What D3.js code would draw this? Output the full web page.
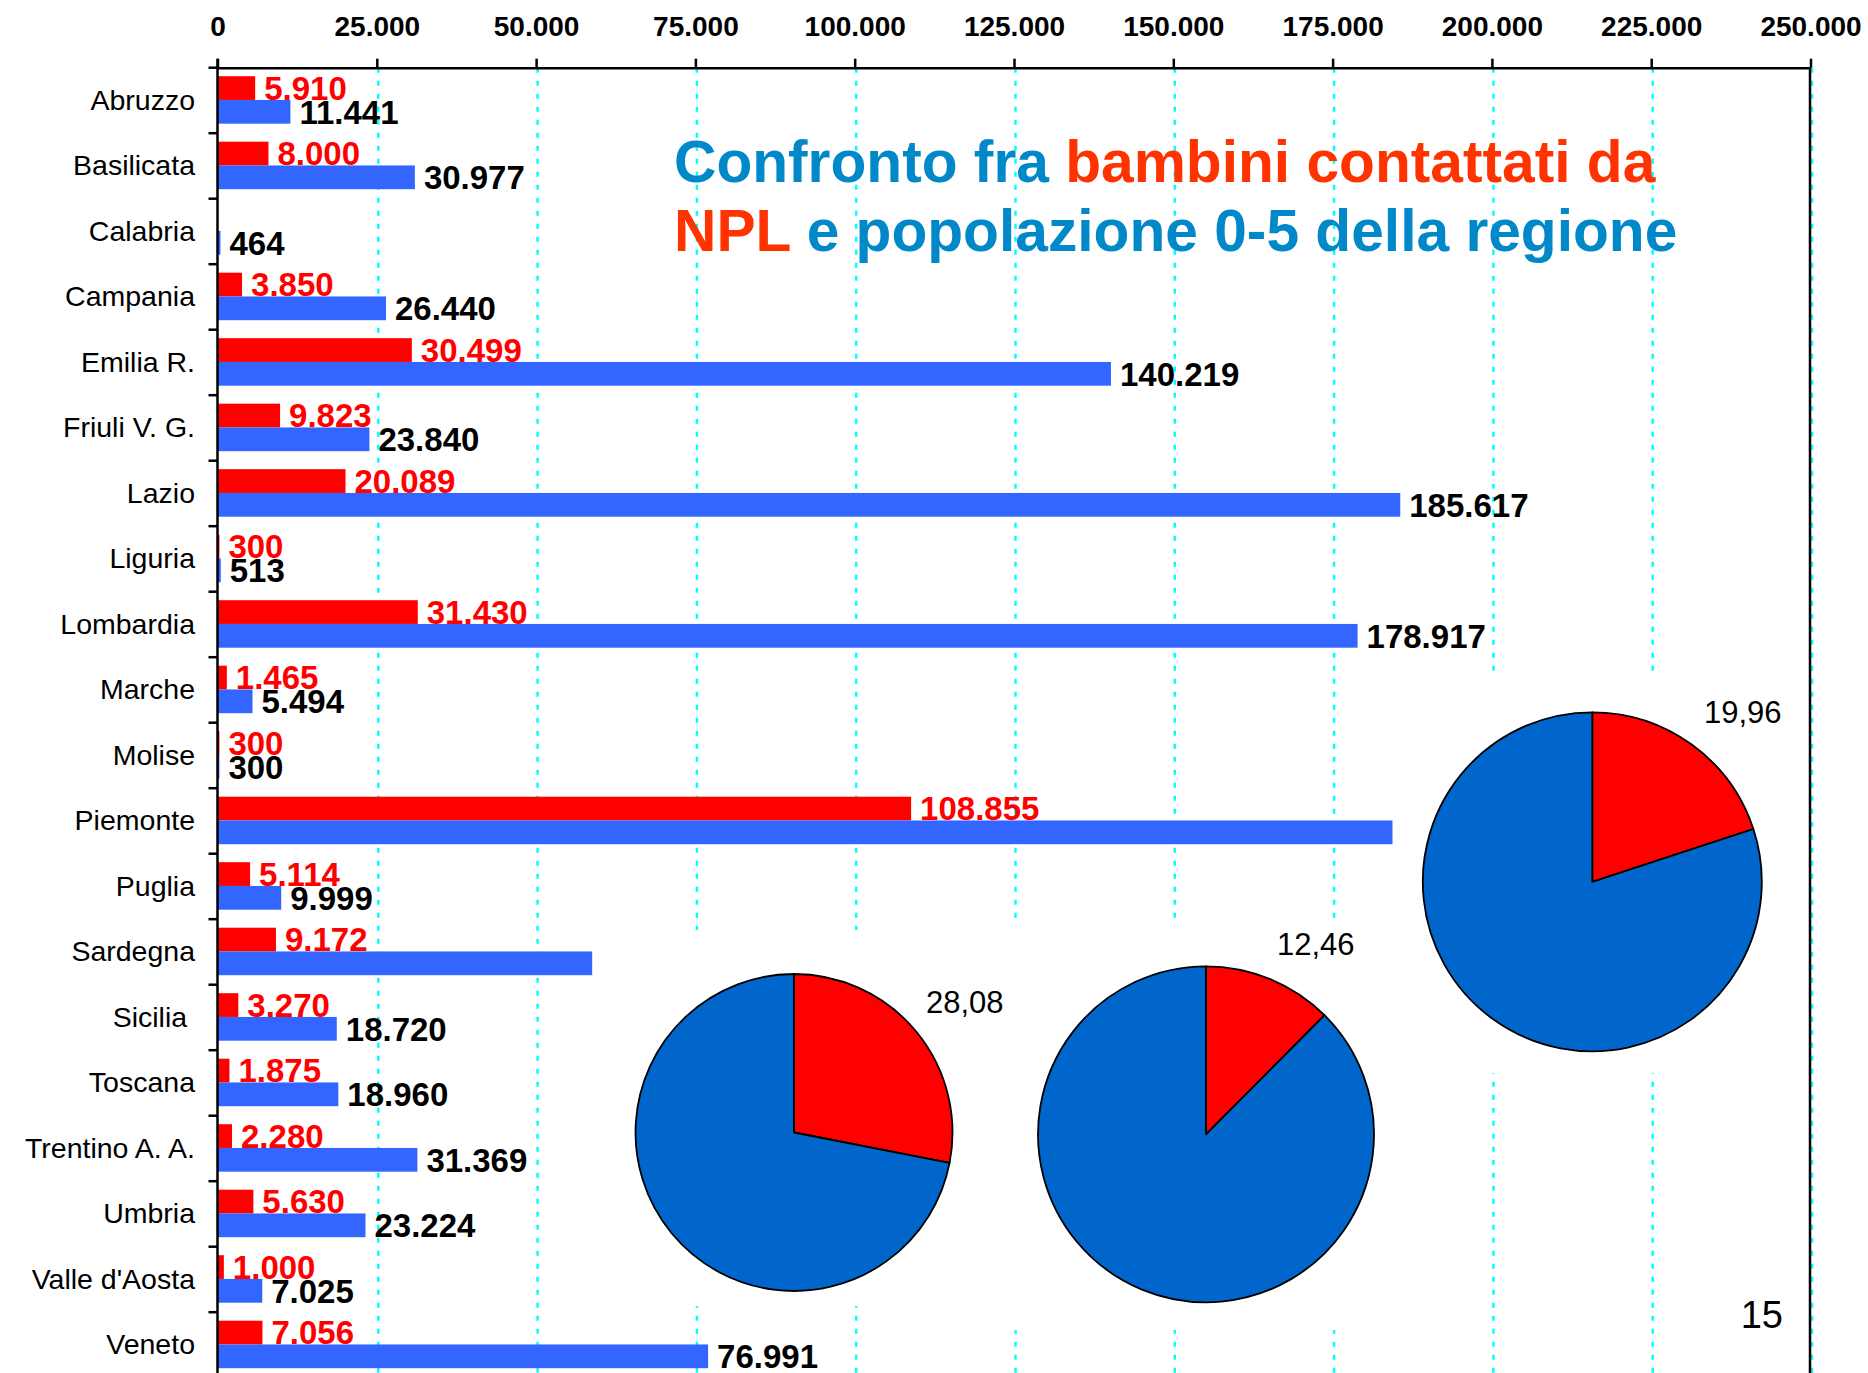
<!DOCTYPE html>
<html>
<head>
<meta charset="utf-8">
<script src="https://cdn.jsdelivr.net/npm/d3@7"></script>
<style>
  body { margin: 0; background: #fff; }
  text { font-family: "Liberation Sans", Arial, sans-serif; }
</style>
</head>
<body>
<div id="chart"></div>
<script>
// Data
const regions = ["Abruzzo", "Basilicata", "Calabria", "Campania", "Emilia R.", "Friuli V. G.",
    "Lazio", "Liguria", "Lombardia", "Marche", "Molise", "Piemonte", "Puglia", "Sardegna",
    "Sicilia ", "Toscana", "Trentino A. A.", "Umbria", "Valle d'Aosta", "Veneto"];
// bambini contattati da NPL (red)
const contattati = [5910, 8000, null, 3850, 30499, 9823, 20089, 300, 31430, 1465,
    300, 108855, 5114, 9172, 3270, 1875, 2280, 5630, 1000, 7056];
// popolazione 0-5 (blue)
const popolazione = [11441, 30977, 464, 26440, 140219, 23840, 185617, 513, 178917, 5494,
    300, 184400, 9999, 58800, 18720, 18960, 31369, 23224, 7025, 76991];
const xTicks = [0, 25000, 50000, 75000, 100000, 125000, 150000, 175000, 200000, 225000, 250000];
// share of red slice in each pie (%)
const piePercent = [28.08, 12.46, 19.96];
const pageNumber = "15";

const W = 1868, H = 1373;
const red = "#FF0000", blue = "#3366FF", pieBlue = "#0066CC";
const titleBlue = "#0088C8", titleRed = "#FF3300";

const it = d3.formatLocale({ decimal: ",", thousands: ".", grouping: [3], currency: ["€", ""] });
const fmtInt = it.format(",d");
const fmtDec = it.format(",.2f");

const svg = d3.select("#chart")
    .append("svg")
    .attr("width", W)
    .attr("height", H);

// Scales
const x = d3.scaleLinear()
    .domain([0, 250000])
    .range([217.5, 1810.5]);

const y = d3.scaleBand()
    .domain(regions)
    .range([67.7, 67.7 + 65.5 * regions.length]);

const ySub = d3.scaleBand()
    .domain(["npl", "pop"])
    .range([8.5, 56]);

// Grid lines (cyan, dashed)
svg.append("g")
    .attr("transform", "translate(1.5,0)")
    .selectAll("line")
    .data(xTicks.filter(d => d > 0))
    .enter()
    .append("line")
    .attr("x1", d => x(d))
    .attr("x2", d => x(d))
    .attr("y1", y.range()[0])
    .attr("y2", H)
    .attr("stroke", "#00FFFF")
    .attr("stroke-width", 2.5)
    .attr("stroke-dasharray", "5,8");

// Red bars + labels
const rows = regions.map((r, i) => ({ region: r, npl: contattati[i], pop: popolazione[i] }));

svg.selectAll(".bar-npl")
    .data(rows.filter(d => d.npl != null))
    .enter()
    .append("rect")
    .attr("class", "bar-npl")
    .attr("x", x(0))
    .attr("y", d => y(d.region) + ySub("npl"))
    .attr("width", d => x(d.npl) - x(0))
    .attr("height", ySub.bandwidth())
    .attr("fill", red);

svg.selectAll(".label-npl")
    .data(rows.filter(d => d.npl != null))
    .enter()
    .append("text")
    .attr("class", "label-npl")
    .attr("x", d => x(d.npl) + 9)
    .attr("y", d => y(d.region) + ySub("npl") + ySub.bandwidth())
    .attr("fill", red)
    .style("font-size", "33px")
    .style("font-weight", 700)
    .text(d => fmtInt(d.npl));

// Blue bars + labels
svg.selectAll(".bar-pop")
    .data(rows)
    .enter()
    .append("rect")
    .attr("class", "bar-pop")
    .attr("x", x(0))
    .attr("y", d => y(d.region) + ySub("pop"))
    .attr("width", d => x(d.pop) - x(0))
    .attr("height", ySub.bandwidth())
    .attr("fill", blue);

svg.selectAll(".label-pop")
    .data(rows)
    .enter()
    .append("text")
    .attr("class", "label-pop")
    .attr("x", d => x(d.pop) + 9)
    .attr("y", d => y(d.region) + ySub("pop") + ySub.bandwidth())
    .attr("fill", "#000")
    .style("font-size", "33px")
    .style("font-weight", 700)
    .text(d => fmtInt(d.pop));

// Top axis
const xAxis = svg.append("g")
    .attr("transform", `translate(0,${y.range()[0]})`)
    .call(d3.axisTop(x)
        .tickValues(xTicks)
        .tickFormat(fmtInt)
        .tickSize(9)
        .tickSizeOuter(0)
        .tickPadding(22.7));
xAxis.selectAll("line, path").attr("stroke", "#000").attr("stroke-width", 2.5);
xAxis.selectAll("text")
    .attr("fill", "#000")
    .style("font-size", "28px")
    .style("font-weight", 700)
    .style("font-family", "'Liberation Sans', Arial, sans-serif");

// Left axis with region names
const yAxis = svg.append("g")
    .attr("transform", `translate(${x(0)},0)`)
    .call(d3.axisLeft(y)
        .tickSize(0)
        .tickPadding(22.5));
yAxis.select(".domain").remove();
yAxis.selectAll("text")
    .attr("fill", "#000")
    .attr("xml:space", "preserve")
    .style("white-space", "pre")
    .style("font-size", "28.5px")
    .style("font-family", "'Liberation Sans', Arial, sans-serif");

// band boundary ticks
svg.append("g")
    .selectAll("line")
    .data(regions.map(r => y(r)).concat([y.range()[1]]))
    .enter()
    .append("line")
    .attr("x1", x(0) - 9)
    .attr("x2", x(0))
    .attr("y1", d => d)
    .attr("y2", d => d)
    .attr("stroke", "#000")
    .attr("stroke-width", 2.5);

// left axis line and right frame
svg.append("line")
    .attr("x1", x(0)).attr("x2", x(0))
    .attr("y1", y.range()[0] - 9).attr("y2", H)
    .attr("stroke", "#000").attr("stroke-width", 2.5);
svg.append("line")
    .attr("x1", x(250000) - 0.5).attr("x2", x(250000) - 0.5)
    .attr("y1", y.range()[0]).attr("y2", H)
    .attr("stroke", "#000").attr("stroke-width", 2.5);

// Title
const title = svg.append("g")
    .style("font-size", "58.7px")
    .style("font-weight", 700);
const t1 = title.append("text").attr("x", 674).attr("y", 181.7);
t1.append("tspan").attr("fill", titleBlue).text("Confronto fra ");
t1.append("tspan").attr("fill", titleRed).text("bambini contattati da");
const t2 = title.append("text").attr("x", 674).attr("y", 250.7);
t2.append("tspan").attr("fill", titleRed).text("NPL");
t2.append("tspan").attr("fill", titleBlue).text(" e popolazione 0-5 della regione");

// Pie panels (white background pasted over the chart)
const pieLayout = [
    { panel: [596, 930, 414, 376], cx: 794, cy: 1132.5, r: 158.5, lx: 926, ly: 1012.7 },
    { panel: [1012, 922, 408, 408], cx: 1206, cy: 1134.3, r: 168, lx: 1277, ly: 955 },
    { panel: [1396, 673, 394, 400], cx: 1592.3, cy: 881.8, r: 169.5, lx: 1704, ly: 723.3 }
];

const pie = d3.pie().sort(null).value(d => d);

piePercent.forEach((p, i) => {
    const L = pieLayout[i];
    const g = svg.append("g");
    g.append("rect")
        .attr("x", L.panel[0]).attr("y", L.panel[1])
        .attr("width", L.panel[2]).attr("height", L.panel[3])
        .attr("fill", "#fff");

    const arc = d3.arc().innerRadius(0).outerRadius(L.r);
    g.append("g")
        .attr("transform", `translate(${L.cx},${L.cy})`)
        .selectAll("path")
        .data(pie([p, 100 - p]))
        .enter()
        .append("path")
        .attr("d", arc)
        .attr("fill", (d, j) => j === 0 ? red : pieBlue)
        .attr("stroke", "#000")
        .attr("stroke-width", 1.8)
        .attr("stroke-linejoin", "round");

    g.append("text")
        .attr("x", L.lx)
        .attr("y", L.ly)
        .attr("fill", "#000")
        .style("font-size", "31px")
        .text(fmtDec(p));
});

// slide number
svg.append("text")
    .attr("x", 1783)
    .attr("y", 1327.7)
    .attr("text-anchor", "end")
    .attr("fill", "#000")
    .style("font-size", "38px")
    .text(pageNumber);
</script>
</body>
</html>
